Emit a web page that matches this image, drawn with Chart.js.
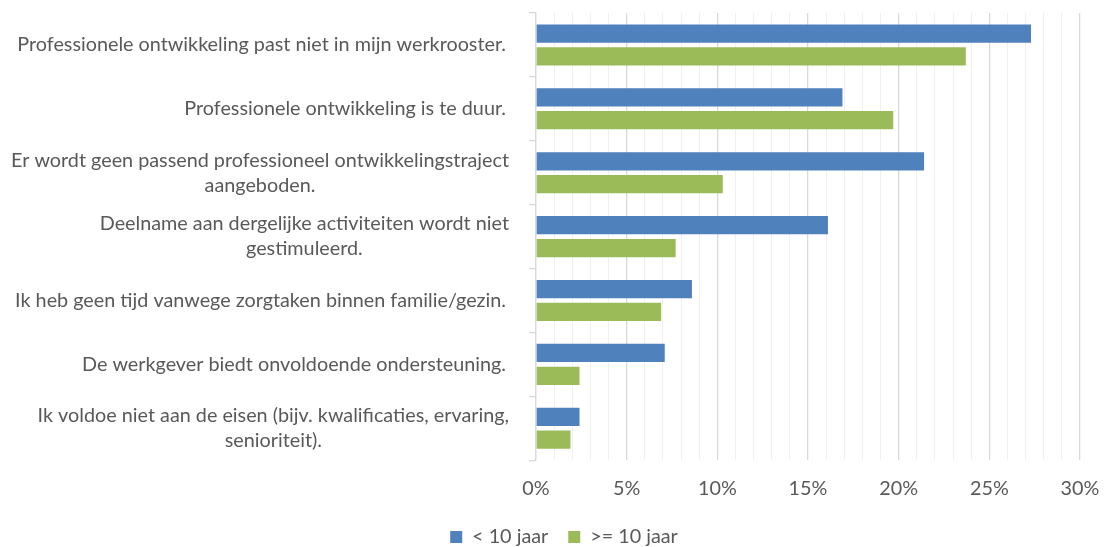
<!DOCTYPE html>
<html><head><meta charset="utf-8">
<script src="https://cdn.jsdelivr.net/npm/chart.js@4/dist/chart.umd.min.js"></script>
<style>html,body{margin:0;padding:0;background:#fff}#wrap{width:1104px;height:547px;position:relative}</style>
</head><body><div id="wrap"><canvas id="c"></canvas></div>
<script>
const categories = [
  ["Professionele ontwikkeling past niet in mijn werkrooster."],
  ["Professionele ontwikkeling is te duur."],
  ["Er wordt geen passend professioneel ontwikkelingstraject", "aangeboden."],
  ["Deelname aan dergelijke activiteiten wordt niet", "gestimuleerd."],
  ["Ik heb geen tijd vanwege zorgtaken binnen familie/gezin."],
  ["De werkgever biedt onvoldoende ondersteuning."],
  ["Ik voldoe niet aan de eisen (bijv. kwalificaties, ervaring,", "senioriteit)."]
];
const seriesNames = ["< 10 jaar", ">= 10 jaar"];
const lessThan10 = [27.3, 16.9, 21.4, 16.1, 8.6, 7.1, 2.4];
const tenOrMore = [23.7, 19.7, 10.3, 7.7, 6.9, 2.4, 1.9];
const xTickLabels = ["0%", "5%", "10%", "15%", "20%", "25%", "30%"];

const FONT_FAMILY = "Lato, 'Open Sans', sans-serif";
const FONT_SIZE = 19.8;
const TEXT_COLOR = '#595959';

const yLabelPlugin = {
  id: 'yLabels',
  afterDraw(chart) {
    const ctx = chart.ctx, y = chart.scales.y;
    ctx.save();
    ctx.font = FONT_SIZE + 'px ' + FONT_FAMILY;
    ctx.fillStyle = TEXT_COLOR;
    ctx.textAlign = 'center';
    ctx.textBaseline = 'middle';
    const lh = 25;
    categories.forEach((lines, i) => {
      const right = lines.length > 1 ? 509 : 506;
      const cy = y.getPixelForTick(i);
      const w = Math.max(...lines.map(l => ctx.measureText(l).width));
      const cx = right - w / 2;
      lines.forEach((l, j) => ctx.fillText(l, cx, cy + (j - (lines.length - 1) / 2) * lh));
    });
    ctx.restore();
  }
};

new Chart(document.getElementById('c'), {
  type: 'bar',
  data: {
    labels: categories,
    datasets: [
      { label: seriesNames[0], data: lessThan10, backgroundColor: '#4f81bd', categoryPercentage: 0.714, barPercentage: 0.8 },
      { label: seriesNames[1], data: tenOrMore, backgroundColor: '#9bbb59', categoryPercentage: 0.714, barPercentage: 0.8 }
    ]
  },
  options: {
    indexAxis: 'y',
    responsive: true,
    maintainAspectRatio: false,
    animation: false,
    layout: { padding: { left: 48, right: 24, top: 13, bottom: -10 } },
    plugins: {
      tooltip: { enabled: false },
      legend: {
        position: 'bottom',
        labels: {
          boxWidth: 12, boxHeight: 12, padding: 20,
          color: TEXT_COLOR,
          font: { family: FONT_FAMILY, size: FONT_SIZE }
        }
      }
    },
    scales: {
      x: {
        min: 0, max: 30,
        afterFit: s => { s.height = 47; s.paddingRight = 0; s.paddingLeft = 0; },
        border: { display: false },
        grid: {
          drawTicks: false,
          color: c => (c.tick && c.tick.value % 5 === 0) ? '#d9d9d9' : '#f0f0f0',
          lineWidth: c => (c.tick && c.tick.value % 5 === 0) ? 1.3 : 1
        },
        ticks: {
          stepSize: 1, autoSkip: false, maxRotation: 0, padding: 17,
          color: TEXT_COLOR,
          font: { family: FONT_FAMILY, size: FONT_SIZE },
          callback: v => (v % 5 === 0) ? xTickLabels[v / 5] : ''
        }
      },
      y: {
        afterFit: s => { s.width = 488; },
        border: { display: true, color: '#d9d9d9', width: 1.3 },
        grid: { drawOnChartArea: false, drawTicks: true, tickLength: 7, color: '#d9d9d9', lineWidth: 1.3 },
        ticks: { display: false }
      }
    }
  },
  plugins: [yLabelPlugin]
});
</script>
</body></html>
